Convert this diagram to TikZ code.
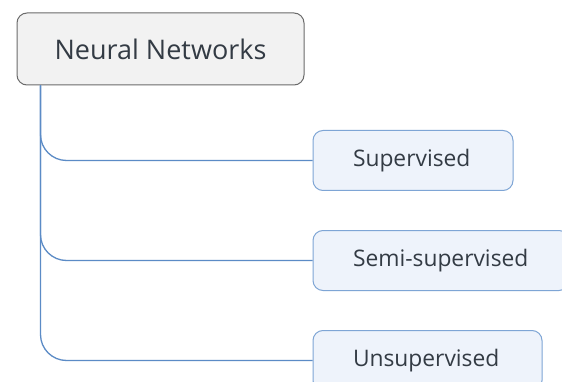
\documentclass[tikz,border=0pt]{standalone}
\usepackage{fontspec}
\setmainfont{Open Sans}
\definecolor{linkblue}{HTML}{5B8BC6}
\definecolor{childfill}{HTML}{EEF3FB}
\definecolor{childedge}{HTML}{7EA5D5}
\definecolor{rootfill}{HTML}{F2F2F2}
\definecolor{rootedge}{HTML}{6B6B6B}
\definecolor{txt}{HTML}{333B44}
\begin{document}
\begin{tikzpicture}[x=1pt,y=1pt,
  rootbox/.style={draw=rootedge,fill=rootfill,line width=1pt,rounded corners=10pt,
    minimum width=287pt,minimum height=72pt,inner sep=0pt,text=txt,font=\fontsize{27}{30}\selectfont},
  childbox/.style={draw=childedge,fill=childfill,line width=1pt,rounded corners=10pt,
    minimum height=60pt,inner xsep=40pt,inner ysep=0pt,align=left,text=txt,
    font=\fontsize{22.8}{26}\selectfont},
  link/.style={draw=linkblue,line width=1.3pt,rounded corners=26pt}]
\clip (0,0) rectangle (562,-382);
\fill[white] (0,0) rectangle (562,-382);
\node[rootbox] (root) at (160.5,-49) {Neural Networks};
\node[childbox,text width=120pt] (sup) at (413,-160.5) {Supervised};
\node[childbox,text width=176pt] (semi) at (441,-260.5) {Semi-supervised};
\node[childbox,text width=149pt] (unsup) at (427.5,-360.5) {Unsupervised};
\coordinate (trunk) at ([xshift=24pt]root.south west);
\draw[link] (trunk) |- (sup.west);
\draw[link] (trunk) |- (semi.west);
\draw[link] (trunk) |- (unsup.west);
\end{tikzpicture}
\end{document}
